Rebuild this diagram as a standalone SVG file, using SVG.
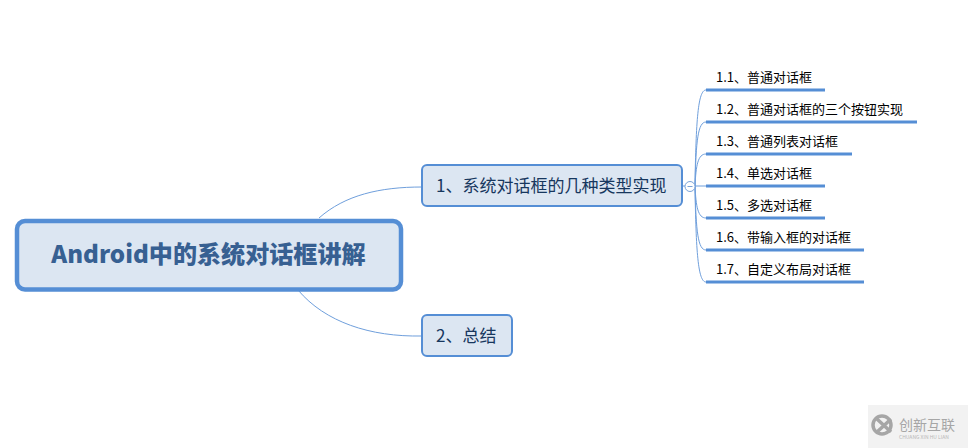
<svg xmlns="http://www.w3.org/2000/svg" width="968" height="448" viewBox="0 0 968 448">
<style>
text{font-family:"Noto Sans CJK SC","Liberation Sans",sans-serif}
.c{fill:none;stroke:#6f9fdc;stroke-width:1}
.b{fill:#dce6f2;stroke:#558ed5}
.l{fill:#000;font-size:13px}
.u{stroke:#558ed5;stroke-width:3;fill:none}
.t{fill:#17375e;font-size:17px}
</style>
<rect width="968" height="448" fill="#fff"/>
<g id="connectors">
<path class="c" d="M319 218C345 195 380 187 422 187"/>
<path class="c" d="M298 290C325 322 370 337 422 336"/>
<path class="c" d="M683 186H685"/>
<path class="c" d="M695 186H706"/>
<path class="c" d="M695 186C696 120 698 90 706 90"/>
<path class="c" d="M695 186C696 140 698 122 706 122"/>
<path class="c" d="M695 186C696 165 698 154 706 154"/>
<path class="c" d="M695 186C696 207 698 218 706 218"/>
<path class="c" d="M695 186C696 232 698 250 706 250"/>
<path class="c" d="M695 186C696 252 698 282 706 282"/>
<circle cx="690" cy="186.500" r="5" fill="#fff" stroke="#7aa3d8"/>
<path d="M687.500 186.500H692.500" stroke="#7aa3d8"/>
</g>
<g id="root">
<rect class="b" x="17" y="221" width="384" height="68.500" rx="8" stroke-width="4.500"/>
<text x="208.500" y="263" text-anchor="middle" font-size="24.100" font-weight="900" fill="#376092">Android中的系统对话框讲解</text>
</g>
<g id="n1">
<rect class="b" x="422" y="165" width="260" height="41" rx="5" stroke-width="2"/>
<text class="t" x="436" y="192">1、系统对话框的几种类型实现</text>
</g>
<g id="n2">
<rect class="b" x="422" y="315" width="90" height="41" rx="5" stroke-width="2"/>
<text class="t" x="436" y="342">2、总结</text>
</g>
<g id="n11"><text class="l" x="716" y="82">1.1、普通对话框</text><path class="u" d="M706 90H825"/></g>
<g id="n12"><text class="l" x="716" y="114">1.2、普通对话框的三个按钮实现</text><path class="u" d="M706 122H917"/></g>
<g id="n13"><text class="l" x="716" y="146">1.3、普通列表对话框</text><path class="u" d="M706 154H852"/></g>
<g id="n14"><text class="l" x="716" y="178">1.4、单选对话框</text><path class="u" d="M706 186H825"/></g>
<g id="n15"><text class="l" x="716" y="210">1.5、多选对话框</text><path class="u" d="M706 218H825"/></g>
<g id="n16"><text class="l" x="716" y="242">1.6、带输入框的对话框</text><path class="u" d="M706 250H864"/></g>
<g id="n17"><text class="l" x="716" y="274">1.7、自定义布局对话框</text><path class="u" d="M706 282H864"/></g>
<g id="watermark">
<rect x="868" y="405" width="100" height="43" fill="#f2f2f2"/>
<circle cx="882" cy="425" r="9" fill="none" stroke="#a6a6a6" stroke-width="3.500"/>
<path d="M877 419L891 432M877 432L891 419" stroke="#a6a6a6" stroke-width="3.500"/>
<text x="899" y="430" font-size="14" fill="#a6a6a6">创新互联</text>
<text x="899" y="438.500" font-size="5" fill="#b8b8b8">CHUANG XIN HU LIAN</text>
</g>
</svg>
